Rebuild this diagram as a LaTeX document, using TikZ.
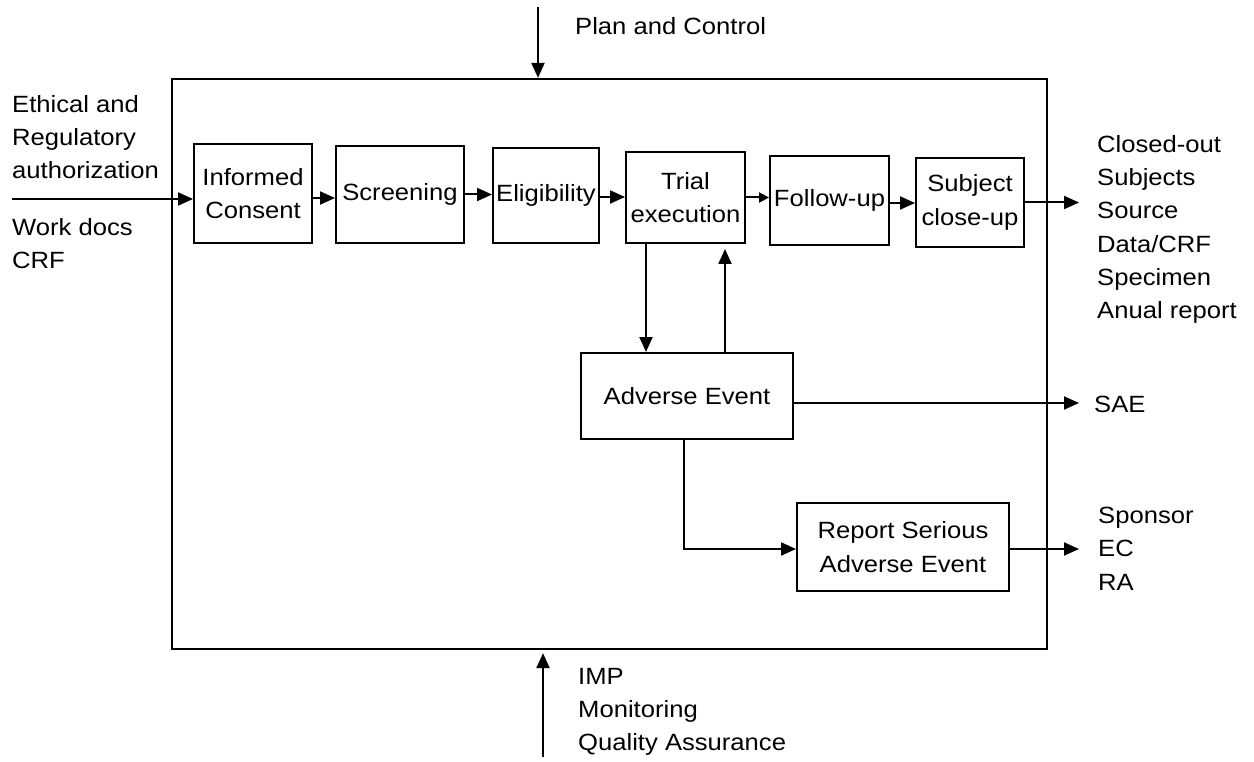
\documentclass[tikz,border=0pt]{standalone}
\usepackage{fontspec}
\setmainfont[FakeStretch=1.09]{Liberation Sans}
\usetikzlibrary{arrows.meta}

\begin{document}
\begin{tikzpicture}[x=1pt,y=-1pt,
  txt/.style={font=\fontsize{23.5}{33.3}\selectfont, inner sep=0pt},
  stage/.style={txt, draw, line width=2pt, align=center},
  note/.style={txt, align=left},
  arr/.style={line width=2pt, -{Triangle[length=15pt,width=13pt]}},
  small arr/.style={line width=2pt, -{Triangle[length=10pt,width=10pt]}}]
\useasboundingbox (0,0) rectangle (1254,762);

% outer process frame
\node[draw, line width=2.2pt, minimum width=875pt, minimum height=570pt, inner sep=0pt] (frame) at (609.5,364) {};

% process stages
\node[stage, minimum width=118pt, minimum height=99pt] (ic) at (253,193.5) {Informed\\Consent};
\node[stage, minimum width=128pt, minimum height=97pt] (scr) at (400,194.5) {Screening};
\node[stage, minimum width=106pt, minimum height=95pt] (el) at (546,195.5) {Eligibility};
\node[stage, minimum width=119pt, minimum height=91pt] (te) at (685.5,197.5) {Trial\\execution};
\node[stage, minimum width=119pt, minimum height=89pt] (fu) at (829.5,200.5) {Follow-up};
\node[stage, minimum width=108pt, minimum height=89pt] (sc) at (970,202.5) {Subject\\close-up};
\node[stage, minimum width=212pt, minimum height=86pt] (ae) at (687,396) {Adverse Event};
\node[stage, minimum width=212pt, minimum height=88pt] (rs) at (903,547) {Report Serious\\Adverse Event};

% inputs, outputs, controls and resources
\node[note, anchor=north west] (eth) at (12,95) {Ethical and\\Regulatory\\authorization};
\node[note, anchor=north west] (wd) at (12,218) {Work docs\\CRF};
\node[note, anchor=north west] (co) at (1097,135) {Closed-out\\Subjects\\Source\\Data/CRF\\Specimen\\Anual report};
\node[note, anchor=west] (sae) at (1094,404) {SAE};
\node[note, anchor=north west] (sp) at (1098,507) {Sponsor\\EC\\RA};
\node[note, anchor=north west] (plan) at (575,17) {Plan and Control};
\node[note, anchor=north west] (imp) at (578,668) {IMP\\Monitoring\\Quality Assurance};

% free ends of the boundary arrows
\coordinate (src) at (12,199);
\coordinate (outx) at (1079,0);
\coordinate (pc) at (538,7);
\coordinate (qa) at (543,757);

% main flow
\draw[arr] (src) -- (src -| ic.west);
\draw[arr] ([yshift=-4.5pt]ic.east) -- ([yshift=-4.5pt]ic.east -| scr.west);
\draw[arr] (scr.east) -- (scr.east -| el.west);
\draw[arr] ([yshift=-1.5pt]el.east) -- ([yshift=-1.5pt]el.east -| te.west);
\draw[small arr] (te.east) -- (te.east -| fu.west);
\draw[arr] ([yshift=-2.5pt]fu.east) -- ([yshift=-2.5pt]fu.east -| sc.west);
\draw[arr] (sc.east) -- (sc.east -| outx);

% adverse event loop
\draw[arr] ([xshift=-39.5pt]te.south) -- ([xshift=-39.5pt]te.south |- ae.north);
\draw[arr] ([xshift=38pt]ae.north) -- ([xshift=38pt,yshift=-5pt]ae.north |- te.south);
\draw[arr] ([yshift=-7pt]ae.east) -- ([yshift=-7pt]ae.east -| outx);
\draw[arr] ([xshift=-3pt]ae.south) |- ([yshift=-2pt]rs.west);
\draw[arr] ([yshift=-2pt]rs.east) -- ([yshift=-2pt]rs.east -| outx);

% control and resource arrows
\draw[arr] (pc) -- (pc |- frame.north);
\draw[arr] (qa) -- ([yshift=-3pt]qa |- frame.south);
\end{tikzpicture}
\end{document}
